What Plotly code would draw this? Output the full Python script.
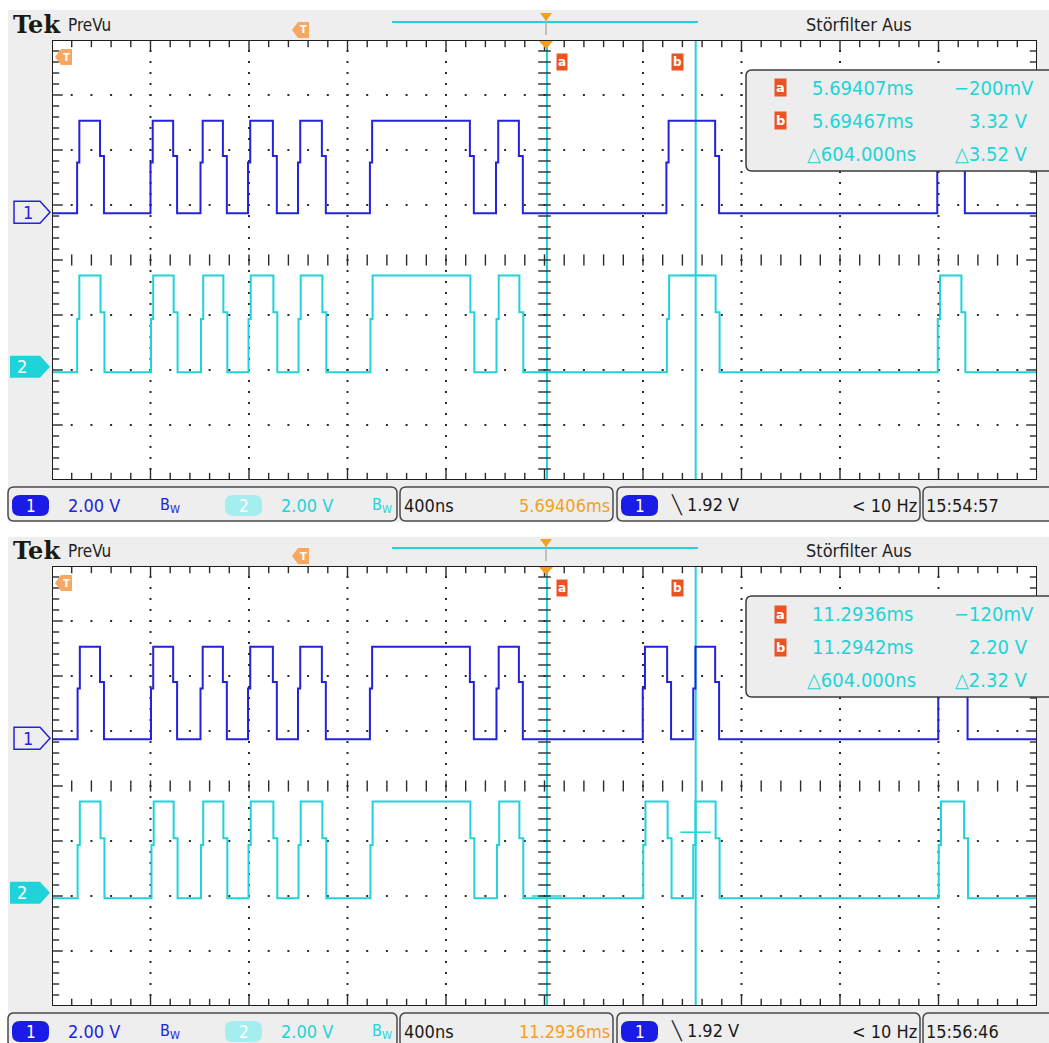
import plotly.graph_objects as go

W, H = 1049, 1043

# ---------------- data ----------------
TIME_RANGE_NS = [-2000, 2000]          # 10 div x 400 ns, trigger at centre
NS_PER_DIV = 400
VOLTS_PER_DIV = 2.0
DIVS_Y = 8
CH1_OFFSET_DIV = 4.87                  # ground marker "1"
CH2_OFFSET_DIV = 2.06                  # ground marker "2"
CH1_LEVELS_V = [-0.04, 3.32]           # low, high
CH2_LEVELS_V = [-0.20, 3.32]

# edge start times (ns, relative to trigger) read from the screens
TOP_CH1_RISE_NS = [-1898, -1600, -1397, -1204, -1001, -709, -197, 495, 1595]
TOP_CH1_FALL_NS = [-1805, -1508, -1306, -1103, -904, -303, -104, 693, 1691]
TOP_CH2_RISE_NS = [-1898, -1598, -1395, -1202, -999, -707, -195, 497, 1597]
TOP_CH2_FALL_NS = [-1803, -1506, -1304, -1101, -902, -301, -102, 695, 1693]

BOT_CH1_RISE_NS = [-1896, -1598, -1397, -1204, -1001, -709, -195, 399, 604, 1599]
BOT_CH1_FALL_NS = [-1805, -1508, -1306, -1103, -904, -303, -104, 498, 693, 1702]
BOT_CH2_RISE_NS = [-1896, -1596, -1395, -1202, -999, -707, -193, 401, 604, 1601]
BOT_CH2_FALL_NS = [-1803, -1506, -1304, -1101, -902, -301, -102, 500, 695, 1704]

CURSOR_A_NS = 10                       # 5.69407 ms - 5.69406 ms
CURSOR_DELTA_NS = 604
CURSOR_A_V = [-0.20, -0.12]
CURSOR_B_V = [3.32, 2.20]

TRIGGER_TIME_TXT = ["5.69406ms", "11.2936ms"]
CLOCK_TXT = ["15:54:57", "15:56:46"]
CUR_A_T_TXT = ["5.69407ms", "11.2936ms"]
CUR_B_T_TXT = ["5.69467ms", "11.2942ms"]
CUR_A_V_TXT = ["\u2212200mV", "\u2212120mV"]
CUR_B_V_TXT = ["3.32 V", "2.20 V"]
DELTA_T_TXT = ["\u25b3604.000ns", "\u25b3604.000ns"]
DELTA_V_TXT = ["\u25b33.52 V", "\u25b32.32 V"]
SCALE_TXT = "2.00 V"
TIMEBASE_TXT = "400ns"
TRIG_LEVEL_TXT = "\u2572 1.92 V"
TRIG_FREQ_TXT = "< 10 Hz"

# ---------------- style ----------------
PANEL_DY = [0, 526]
GX0, GX1 = 52, 1037
GY0, GY1 = 40, 480
RISE_STEP_NS, FALL_STEP_NS = 9, 16
MID_R, MID_F = 0.55, 0.62
BLUE = "#2323dd"
CYAN = "#1fd3d8"
ORANGE = "#f3a01e"
RED = "#ec5322"
GRAY_BG = "#eeeeee"
TEKFONT = "Liberation Sans Narrow, DejaVu Sans Condensed, Roboto Condensed, Arial Narrow, sans-serif"
NS_PER_PX = (TIME_RANGE_NS[1] - TIME_RANGE_NS[0]) / (GX1 - GX0)
DIV_PER_PX = DIVS_Y / (GY1 - GY0)


def P(x, y):
    return f"{x / W:.5f},{1 - y / H:.5f}"


def poly(pts):
    return "M" + " L".join(P(x, y) for x, y in pts) + " Z"


def rrect(x0, y0, x1, y1, r):
    return (f"M{P(x0 + r, y0)} L{P(x1 - r, y0)} Q{P(x1, y0)} {P(x1, y0 + r)} "
            f"L{P(x1, y1 - r)} Q{P(x1, y1)} {P(x1 - r, y1)} L{P(x0 + r, y1)} "
            f"Q{P(x0, y1)} {P(x0, y1 - r)} L{P(x0, y0 + r)} Q{P(x0, y0)} {P(x0 + r, y0)} Z")


def wave(rises, falls, levels, offset):
    low, high = levels
    ev = sorted([(t, 1) for t in rises] + [(t, 0) for t in falls])
    level = low if ev[0][1] == 1 else high
    xs, ys = [TIME_RANGE_NS[0]], [level]
    for t, up in ev:
        if up:
            xs += [t, t + RISE_STEP_NS]
            ys += [low + MID_R * (high - low), high]
            level = high
        else:
            xs += [t, t + FALL_STEP_NS]
            ys += [low + MID_F * (high - low), low]
            level = low
    xs.append(TIME_RANGE_NS[1])
    ys.append(level)
    return xs, [offset + v / VOLTS_PER_DIV for v in ys]


fig = go.Figure()
shapes, annotations = [], []


def txt(x, y, s, size, color, anchor="left", family=TEKFONT, **kw):
    annotations.append(dict(x=x / W, y=1 - y / H, xref="paper", yref="paper", text=s,
                            showarrow=False, xanchor=anchor, yanchor="middle",
                            font=dict(size=size, color=color, family=family), **kw))


panels = [
    dict(ch1=(TOP_CH1_RISE_NS, TOP_CH1_FALL_NS), ch2=(TOP_CH2_RISE_NS, TOP_CH2_FALL_NS)),
    dict(ch1=(BOT_CH1_RISE_NS, BOT_CH1_FALL_NS), ch2=(BOT_CH2_RISE_NS, BOT_CH2_FALL_NS)),
]

# gray instrument backgrounds
shapes.append(dict(type="rect", xref="paper", yref="paper", x0=8 / W, x1=1, y0=1 - 522 / H, y1=1 - 10 / H,
                   fillcolor=GRAY_BG, line=dict(width=0), layer="below"))
shapes.append(dict(type="rect", xref="paper", yref="paper", x0=8 / W, x1=1, y0=0, y1=1 - 537 / H,
                   fillcolor=GRAY_BG, line=dict(width=0), layer="below"))

layout_axes = {}
for i, pnl in enumerate(panels):
    dy = PANEL_DY[i]
    sfx = "" if i == 0 else str(i + 1)
    xa, ya = "x" + sfx, "y" + sfx
    layout_axes["xaxis" + sfx] = dict(domain=[GX0 / W, GX1 / W], range=TIME_RANGE_NS, visible=False,
                                      anchor=ya, fixedrange=True)
    layout_axes["yaxis" + sfx] = dict(domain=[1 - (GY1 + dy) / H, 1 - (GY0 + dy) / H], range=[0, DIVS_Y],
                                      visible=False, anchor=xa, fixedrange=True)
    # white graticule area
    shapes.append(dict(type="rect", xref="paper", yref="paper", x0=GX0 / W, x1=GX1 / W,
                       y0=1 - (GY1 + dy) / H, y1=1 - (GY0 + dy) / H, fillcolor="white",
                       line=dict(width=0), layer="below"))

    def add(x, y, **kw):
        fig.add_trace(go.Scatter(x=x, y=y, xaxis=xa, yaxis=ya, showlegend=False,
                                 hoverinfo="skip", **kw))

    # cursors
    ta, tb = CURSOR_A_NS, CURSOR_A_NS + CURSOR_DELTA_NS
    for t in (ta, tb):
        add([t, t], [0, DIVS_Y], mode="lines", line=dict(color=CYAN, width=2))
    for t, v in ((ta, CURSOR_A_V[i]), (tb, CURSOR_B_V[i])):
        yv = CH2_OFFSET_DIV + v / VOLTS_PER_DIV
        add([t - 62, t + 62], [yv, yv], mode="lines", line=dict(color=CYAN, width=1.5))

    # dotted grid
    gx, gy = [], []
    n_x = (TIME_RANGE_NS[1] - TIME_RANGE_NS[0]) // NS_PER_DIV
    for k in range(1, n_x):
        t = TIME_RANGE_NS[0] + k * NS_PER_DIV
        if k == n_x // 2:
            continue
        for j in range(1, DIVS_Y * 5):
            gx.append(t)
            gy.append(j / 5)
    for j in range(1, DIVS_Y):
        if j == DIVS_Y // 2:
            continue
        for k in range(1, n_x * 5):
            gx.append(TIME_RANGE_NS[0] + k * NS_PER_DIV / 5)
            gy.append(j)
    add(gx, gy, mode="markers", marker=dict(symbol="square", size=2, color="#2a2a2a", line=dict(width=0)))

    # centre axes tick marks
    cx = [0] * (DIVS_Y * 5 - 1)
    cy = [j / 5 for j in range(1, DIVS_Y * 5)]
    add(cx, cy, mode="markers", marker=dict(symbol="line-ew", size=9, line=dict(width=1.4, color="#2a2a2a")))
    hx = [TIME_RANGE_NS[0] + k * NS_PER_DIV / 5 for k in range(1, n_x * 5)]
    add(hx, [DIVS_Y / 2] * len(hx), mode="markers",
        marker=dict(symbol="line-ns", size=8, line=dict(width=1.4, color="#2a2a2a")))

    # border ticks
    for k in range(1, n_x * 5):
        t = TIME_RANGE_NS[0] + k * NS_PER_DIV / 5
        ln = 9 if k % 5 == 0 else 6
        add([t, t], [DIVS_Y - ln / 2 * DIV_PER_PX, ln / 2 * DIV_PER_PX], mode="markers",
            marker=dict(symbol="line-ns", size=ln, line=dict(width=1.4, color="#2a2a2a")))
    for j in range(1, DIVS_Y * 5):
        yv = j / 5
        ln = 9 if j % 5 == 0 else 6
        add([TIME_RANGE_NS[0] + ln / 2 * NS_PER_PX, TIME_RANGE_NS[1] - ln / 2 * NS_PER_PX], [yv, yv],
            mode="markers", marker=dict(symbol="line-ew", size=ln, line=dict(width=1.4, color="#2a2a2a")))

    # waveforms
    x2, y2 = wave(pnl["ch2"][0], pnl["ch2"][1], CH2_LEVELS_V, CH2_OFFSET_DIV)
    add(x2, y2, mode="lines", line=dict(color=CYAN, width=2, shape="hv"))
    x1, y1 = wave(pnl["ch1"][0], pnl["ch1"][1], CH1_LEVELS_V, CH1_OFFSET_DIV)
    add(x1, y1, mode="lines", line=dict(color=BLUE, width=2, shape="hv"))

    # graticule border
    shapes.append(dict(type="rect", xref=xa, yref=ya, x0=TIME_RANGE_NS[0], x1=TIME_RANGE_NS[1], y0=0,
                       y1=DIVS_Y, line=dict(color="#1e1e1e", width=2), layer="above"))

    # ---- header ----
    txt(11, 24 + dy, "<b>Tek</b>", 24, "#1b1a0e", family="DejaVu Serif, Liberation Serif, serif")
    txt(66, 25 + dy, "PreVu", 17, "#222222")
    txt(859, 24 + dy, "St\u00f6rfilter Aus", 18, "#222222", anchor="center")
    shapes.append(dict(type="line", xref="paper", yref="paper", x0=392 / W, x1=698 / W,
                       y0=1 - (22 + dy) / H, y1=1 - (22 + dy) / H, line=dict(color=CYAN, width=2)))
    shapes.append(dict(type="line", xref="paper", yref="paper", x0=546 / W, x1=546 / W,
                       y0=1 - (19 + dy) / H, y1=1 - (35 + dy) / H, line=dict(color="#b0b0b0", width=1.5)))
    shapes.append(dict(type="path", xref="paper", yref="paper",
                       path=poly([(540, 13 + dy), (552, 13 + dy), (546, 21 + dy)]),
                       fillcolor=ORANGE, line=dict(width=0)))
    # trigger position tag (header) and trigger level tag (graticule)
    for (tx, ty) in ((292, 30 + dy), (55, 57 + dy)):
        shapes.append(dict(type="path", xref="paper", yref="paper",
                           path=poly([(tx, ty), (tx + 6, ty - 8), (tx + 17, ty - 8), (tx + 17, ty + 8),
                                      (tx + 6, ty + 8)]),
                           fillcolor="#f6a860", line=dict(width=0), layer="above"))
        txt(tx + 11, ty, "<b>T</b>", 10, "white", anchor="center", family="DejaVu Sans, sans-serif")
    # trigger marker at top of graticule
    shapes.append(dict(type="path", xref="paper", yref="paper",
                       path=poly([(539, 41 + dy), (553, 41 + dy), (546, 49 + dy)]),
                       fillcolor=ORANGE, line=dict(width=0), layer="above"))
    # cursor badges on graticule
    for bx, letter in ((562, "a"), (677, "b")):
        txt(bx, 62 + dy, f"<b>{letter}</b>", 12, "white", anchor="center", bgcolor=RED,
            family="DejaVu Sans, sans-serif", borderpad=1)

    # channel ground markers
    y1m = GY1 + dy - CH1_OFFSET_DIV / DIV_PER_PX
    y2m = GY1 + dy - CH2_OFFSET_DIV / DIV_PER_PX
    shapes.append(dict(type="path", xref="paper", yref="paper",
                       path=poly([(14, y1m - 11), (40, y1m - 11), (50, y1m), (40, y1m + 11), (14, y1m + 11)]),
                       fillcolor=GRAY_BG, line=dict(color=BLUE, width=1.5)))
    txt(28, y1m, "1", 18, BLUE, anchor="center")
    shapes.append(dict(type="path", xref="paper", yref="paper",
                       path=poly([(10, y2m - 11), (40, y2m - 11), (50, y2m), (40, y2m + 11), (10, y2m + 11)]),
                       fillcolor=CYAN, line=dict(width=0)))
    txt(22, y2m, "2", 18, "white", anchor="center")

    # ---- measurement readout box ----
    shapes.append(dict(type="path", xref="paper", yref="paper",
                       path=rrect(746, 70 + dy, 1060, 171 + dy, 6),
                       fillcolor="#ededed", line=dict(color="#3c3c3c", width=1.5), layer="above"))
    for ry, letter in ((88, "a"), (121, "b")):
        txt(780, ry + dy, f"<b>{letter}</b>", 13, "white", anchor="center", bgcolor=RED,
            family="DejaVu Sans, sans-serif", borderpad=1)
    txt(810, 88 + dy, CUR_A_T_TXT[i], 20, CYAN)
    txt(810, 121 + dy, CUR_B_T_TXT[i], 20, CYAN)
    txt(805, 154 + dy, DELTA_T_TXT[i], 20, CYAN)
    txt(1036, 88 + dy, CUR_A_V_TXT[i], 20, CYAN, anchor="right")
    txt(1030, 121 + dy, CUR_B_V_TXT[i], 20, CYAN, anchor="right")
    txt(1030, 154 + dy, DELTA_V_TXT[i], 20, CYAN, anchor="right")

    # ---- status bar ----
    sy0, sy1 = 487 + dy, 521 + dy
    sc = 505 + dy
    for bx0, bx1 in ((8, 397), (400, 613), (617, 920), (923, 1065)):
        shapes.append(dict(type="path", xref="paper", yref="paper", path=rrect(bx0, sy0, bx1, sy1, 6),
                           fillcolor=GRAY_BG, line=dict(color="#4a4a4a", width=1.5)))
    for bx0, bx1, col in ((12, 49, "#1b1be8"), (225, 262, "#a4eef0"), (621, 658, "#1b1be8")):
        shapes.append(dict(type="path", xref="paper", yref="paper",
                           path=rrect(bx0, sc - 10, bx1, sc + 11, 8),
                           fillcolor=col, line=dict(width=0)))
    txt(31, sc + 1, "1", 17, "white", anchor="center")
    txt(244, sc + 1, "2", 17, "white", anchor="center")
    txt(640, sc + 1, "1", 17, "white", anchor="center")
    txt(66, sc, SCALE_TXT, 18, BLUE)
    txt(158, sc, "B<sub>W</sub>", 16, BLUE)
    txt(279, sc, SCALE_TXT, 18, CYAN)
    txt(370, sc, "B<sub>W</sub>", 16, CYAN)
    txt(402, sc, TIMEBASE_TXT, 18, "#1a1a1a")
    txt(612, sc, TRIGGER_TIME_TXT[i], 18, ORANGE, anchor="right")
    txt(669, sc, TRIG_LEVEL_TXT, 18, "#1a1a1a")
    txt(919, sc, TRIG_FREQ_TXT, 18, "#1a1a1a", anchor="right")
    txt(924, sc, CLOCK_TXT[i], 18, "#1a1a1a")

fig.update_layout(
    width=W, height=H, autosize=False,
    margin=dict(l=0, r=0, t=0, b=0, pad=0),
    paper_bgcolor="white", plot_bgcolor="white",
    shapes=shapes, annotations=annotations,
    showlegend=False,
    **layout_axes,
)

fig.write_html("out.html", config=dict(displayModeBar=False, staticPlot=True),
               post_script="document.body.style.margin='0';document.body.style.overflow='hidden';")
